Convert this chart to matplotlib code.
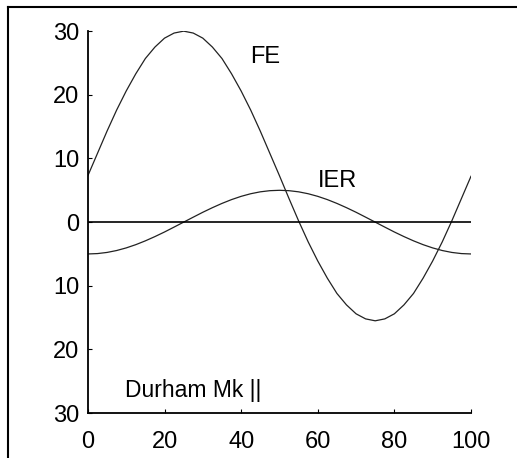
import matplotlib
matplotlib.use("Agg")
import matplotlib.pyplot as plt
from matplotlib.lines import Line2D

plt.rcParams['font.family'] = ['Liberation Sans', 'DejaVu Sans']

# angle over the cycle (percent) and the two curves
x = [0, 2.5, 5, 7.5, 10, 12.5, 15, 17.5, 20, 22.5, 25, 27.5, 30, 32.5, 35,
     37.5, 40, 42.5, 45, 47.5, 50, 52.5, 55, 57.5, 60, 62.5, 65, 67.5, 70,
     72.5, 75, 77.5, 80, 82.5, 85, 87.5, 90, 92.5, 95, 97.5, 100]
fe = [7.3, 10.8, 14.3, 17.6, 20.6, 23.3, 25.7, 27.5, 28.9, 29.7, 30.0, 29.7,
      28.9, 27.5, 25.7, 23.3, 20.6, 17.6, 14.3, 10.8, 7.3, 3.7, 0.2, -3.1,
      -6.1, -8.8, -11.2, -13.0, -14.4, -15.2, -15.5, -15.2, -14.4, -13.0,
      -11.2, -8.8, -6.1, -3.1, 0.2, 3.7, 7.2]
ier = [-5.0, -4.94, -4.76, -4.46, -4.05, -3.54, -2.94, -2.27, -1.55, -0.78,
       0.0, 0.78, 1.55, 2.27, 2.94, 3.54, 4.05, 4.46, 4.76, 4.94, 5.0, 4.94,
       4.76, 4.46, 4.05, 3.54, 2.94, 2.27, 1.55, 0.78, 0.0, -0.78, -1.55,
       -2.27, -2.94, -3.54, -4.05, -4.46, -4.76, -4.94, -5.0]

xticks = [0, 20, 40, 60, 80, 100]
yticks = [30, 20, 10, 0, -10, -20, -30]
ylabels = ["30", "20", "10", "0", "10", "20", "30"]

fig = plt.figure(figsize=(5.17, 4.58), dpi=100)
ax = fig.add_axes([0.170, 0.098, 0.741, 0.834])

ax.plot(x, fe, color='#222222', lw=0.9)
ax.plot(x, ier, color='#222222', lw=0.9)
ax.plot([0, 100], [0, 0], color='black', lw=1.2)

ax.set_xlim(0, 100)
ax.set_ylim(-30, 30)
ax.set_xticks(xticks)
ax.set_yticks(yticks)
ax.set_yticklabels(ylabels)
ax.tick_params(direction='in', length=3, width=0.8, labelsize=17)
ax.tick_params(axis='x', pad=13)
ax.tick_params(axis='y', pad=6)

for s in ['top', 'right']:
    ax.spines[s].set_visible(False)
for s in ['left', 'bottom']:
    ax.spines[s].set_linewidth(1.3)

ax.text(42.3, 26.0, "FE", fontsize=17, ha='left', va='center')
ax.text(60, 6.5, "IER", fontsize=17, ha='left', va='center')
ax.text(9.7, -26.5, "Durham Mk ||", fontsize=16.5, ha='left', va='center')

# frame around the figure (only top and left edges visible)
fig.add_artist(Line2D([8/517, 8/517], [0, 1 - 7/458], color='black', lw=1.5,
                      transform=fig.transFigure))
fig.add_artist(Line2D([8/517, 1], [1 - 7/458, 1 - 7/458], color='black', lw=1.5,
                      transform=fig.transFigure))

fig.savefig("out.png", dpi=100)
